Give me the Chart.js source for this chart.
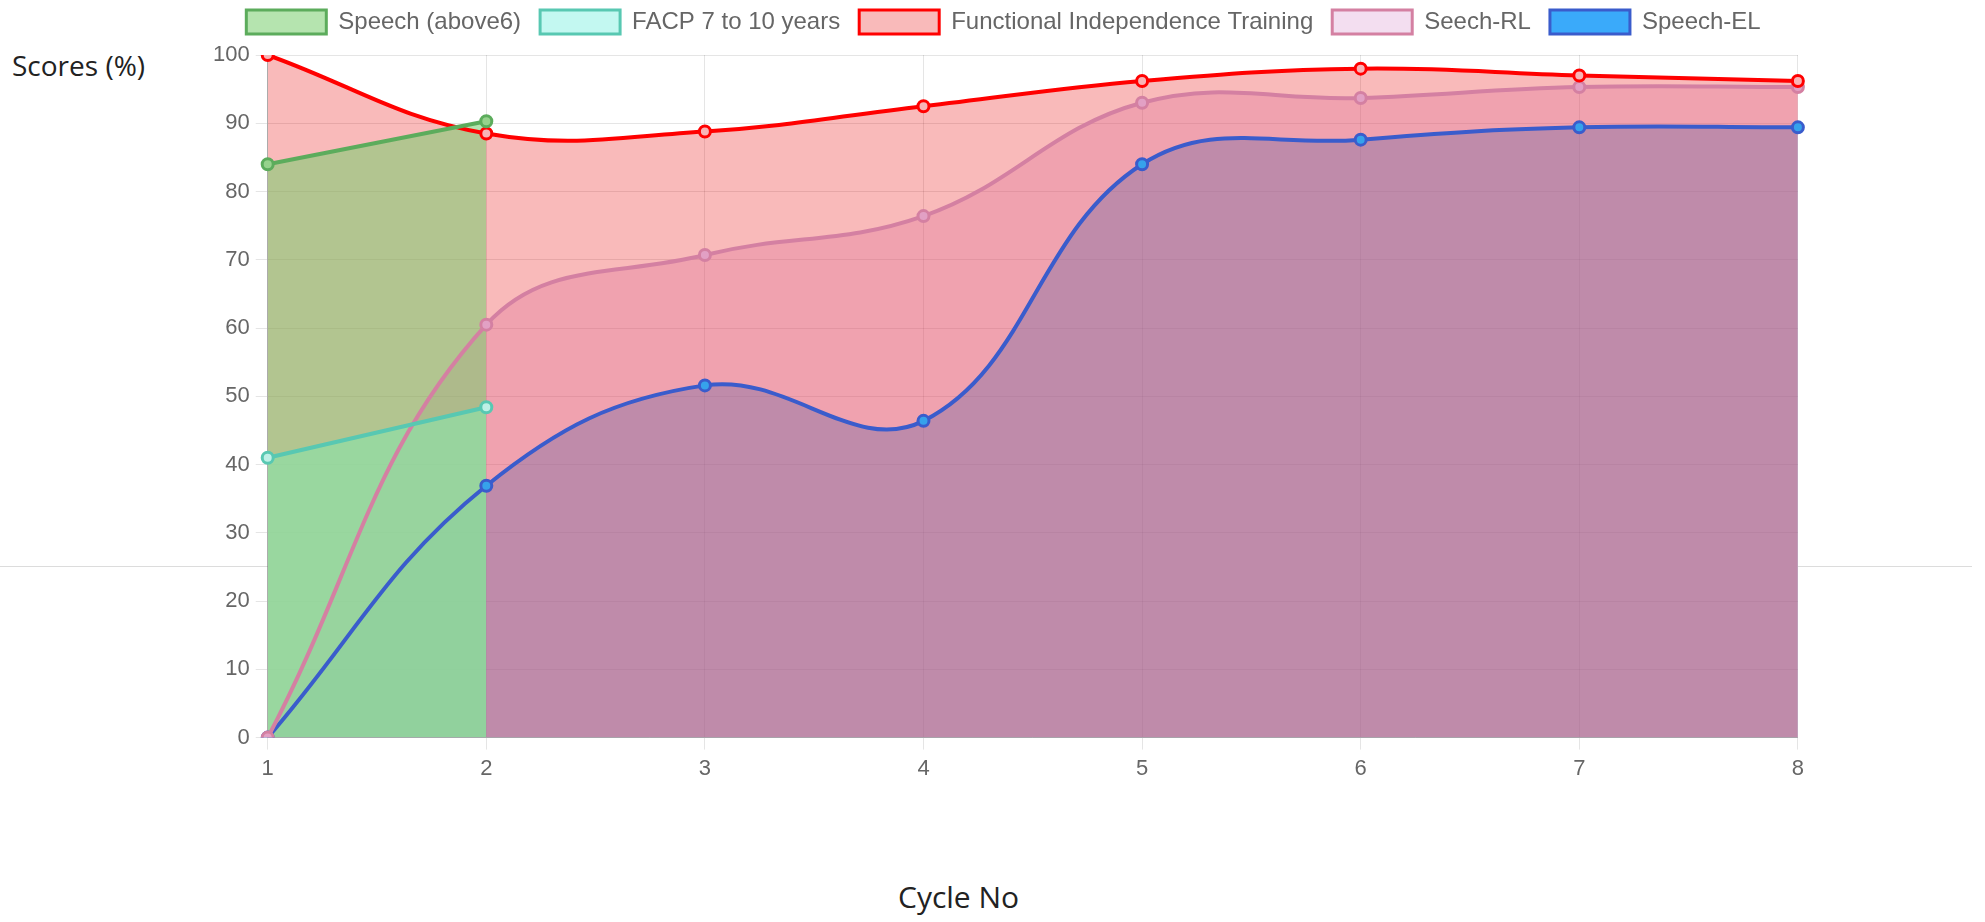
<!DOCTYPE html>
<html lang="en">
<head>
    <meta charset="UTF-8">
    <title>Scores by Cycle</title>
    <script src="https://cdn.jsdelivr.net/npm/chart.js"></script>
    <style>
        body { margin: 0; background: #fff; width: 1985px; height: 922px; position: relative; overflow: hidden; }
        .rule { position: absolute; left: 0; top: 566px; width: 1972px; height: 1px; background: #dcdcdc; z-index: 0; }
        .chart-box { position: absolute; left: 207px; top: -9px; width: 1603px; height: 797px; z-index: 1; }
        .y-title { position: absolute; left: 12px; top: 46px; font-family: "Open Sans", sans-serif; font-size: 28px; color: #222; }
        .x-title { position: absolute; left: 898px; top: 876px; font-family: "Open Sans", sans-serif; font-size: 30px; color: #222; }
    </style>
</head>
<body>
    <div class="rule"></div>
    <div class="y-title">Scores (%)</div>
    <div class="chart-box"><canvas id="scoresChart"></canvas></div>
    <div class="x-title">Cycle No</div>

    <script>
        // values
        const cycles = ['1', '2', '3', '4', '5', '6', '7', '8'];
        const speechAbove6 = [84, 90.3];
        const facp7to10 = [41, 48.4];
        const functionalIndependence = [100, 88.5, 88.8, 92.5, 96.2, 98, 97, 96.2];
        const seechRL = [0, 60.5, 70.7, 76.4, 93, 93.7, 95.3, 95.3];
        const speechEL = [0, 36.9, 51.6, 46.4, 84, 87.6, 89.4, 89.4];
        const yTicks = { min: 0, max: 100, step: 10 };

        // white plot background so the page rule does not show through the fills
        const plotBackground = {
            id: 'plotBackground',
            beforeDraw(chart) {
                const { ctx, chartArea } = chart;
                ctx.save();
                ctx.fillStyle = '#fff';
                ctx.fillRect(chartArea.left, chartArea.top, chartArea.right - chartArea.left, chartArea.bottom - chartArea.top);
                ctx.restore();
            }
        };

        // a bit more room under the legend
        const legendGap = {
            id: 'legendGap',
            beforeInit(chart) {
                const fit = chart.legend.fit;
                chart.legend.fit = function () {
                    fit.bind(chart.legend)();
                    this.height += 11;
                };
            }
        };

        function series(label, data, line, fill, point, legendFill) {
            return {
                label: label,
                data: data,
                borderColor: line,
                backgroundColor: fill,
                pointBackgroundColor: point,
                pointBorderColor: line,
                legendFill: legendFill || fill,
                borderWidth: 4,
                pointRadius: 5.5,
                pointBorderWidth: 3,
                tension: 0.4,
                fill: 'origin'
            };
        }

        const ctx = document.getElementById('scoresChart').getContext('2d');
        new Chart(ctx, {
            type: 'line',
            data: {
                labels: cycles,
                datasets: [
                    series('Speech (above6)', speechAbove6, 'rgb(92,172,92)', 'rgba(120,205,110,0.55)', 'rgb(150,210,140)'),
                    series('FACP 7 to 10 years', facp7to10, 'rgb(88,200,178)', 'rgba(170,245,235,0.7)', 'rgb(190,240,230)'),
                    series('Functional Independence Training', functionalIndependence, 'rgb(255,0,0)', 'rgba(232,0,0,0.27)', 'rgb(248,180,182)'),
                    series('Seech-RL', seechRL, 'rgb(212,128,162)', 'rgba(215,145,205,0.3)', 'rgb(226,160,196)'),
                    series('Speech-EL', speechEL, 'rgb(58,92,204)', 'rgba(54,162,235,0.47)', 'rgb(54,162,235)', 'rgb(58,170,250)')
                ]
            },
            options: {
                responsive: true,
                maintainAspectRatio: false,
                animation: false,
                layout: { padding: { left: 0, right: 10, top: 0, bottom: 0 } },
                plugins: {
                    filler: { drawTime: 'beforeDatasetsDraw' },
                    tooltip: { enabled: false },
                    legend: {
                        position: 'top',
                        labels: {
                            color: '#666',
                            font: { family: '"Liberation Sans", Arial, sans-serif', size: 24 },
                            boxWidth: 80,
                            boxHeight: 24,
                            padding: 19,
                            generateLabels(chart) {
                                const items = Chart.defaults.plugins.legend.labels.generateLabels(chart);
                                items.forEach(item => {
                                    item.fillStyle = chart.data.datasets[item.datasetIndex].legendFill;
                                    item.lineWidth = 3;
                                });
                                return items;
                            }
                        }
                    }
                },
                scales: {
                    x: {
                        grid: { color: 'rgba(0,0,0,0.1)', tickLength: 12 },
                        border: { color: 'rgba(0,0,0,0.25)' },
                        ticks: {
                            color: '#666',
                            padding: 6,
                            font: { family: '"Liberation Sans", Arial, sans-serif', size: 22 }
                        }
                    },
                    y: {
                        min: yTicks.min,
                        max: yTicks.max,
                        grid: { color: 'rgba(0,0,0,0.1)', tickLength: 12 },
                        border: { color: 'rgba(0,0,0,0.25)' },
                        ticks: {
                            stepSize: yTicks.step,
                            color: '#666',
                            padding: 6,
                            font: { family: '"Liberation Sans", Arial, sans-serif', size: 22 }
                        }
                    }
                }
            },
            plugins: [plotBackground, legendGap]
        });
    </script>
</body>
</html>
